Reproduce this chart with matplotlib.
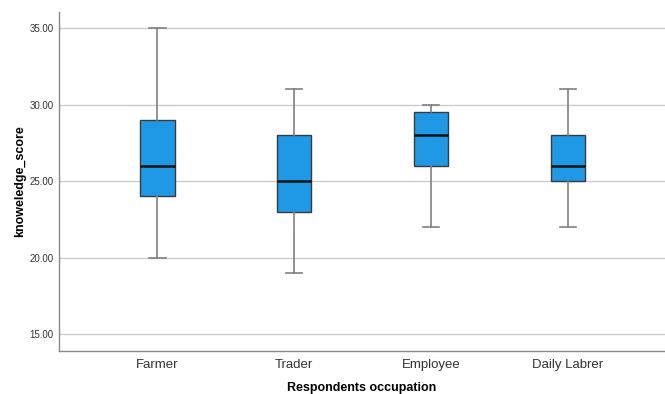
import matplotlib
matplotlib.use("Agg")
import matplotlib.pyplot as plt

plt.rcParams['font.family'] = ['Liberation Sans', 'DejaVu Sans']

# Data
occupations = ['Farmer', 'Trader', 'Employee', 'Daily Labrer']
whisker_low = [20, 19, 22, 22]
q1 = [24, 23, 26, 25]
median = [26, 25, 28, 26]
q3 = [29, 28, 29.5, 28]
whisker_high = [35, 31, 30, 31]
y_ticks = [15, 20, 25, 30, 35]

stats = []
for i, name in enumerate(occupations):
    stats.append(dict(label=name, whislo=whisker_low[i], q1=q1[i], med=median[i],
                      q3=q3[i], whishi=whisker_high[i], fliers=[]))

fig = plt.figure(figsize=(6.65, 3.94), dpi=100)
ax = fig.add_axes([59 / 665, 43 / 394, 606 / 665, 339 / 394])

positions = list(range(len(occupations)))
ax.bxp(stats, positions=positions, widths=0.25, patch_artist=True,
       showfliers=False,
       boxprops=dict(facecolor='#1f99e6', edgecolor='#3a3a3a', linewidth=1.0),
       medianprops=dict(color='#111111', linewidth=1.8),
       whiskerprops=dict(color='#808080', linewidth=1.2),
       capprops=dict(color='#808080', linewidth=1.2),
       capwidths=0.12, zorder=3)

ax.set_xlim(-0.72, 3.71)
ax.set_ylim(13.9, 36.05)
ax.set_yticks(y_ticks)
ax.set_yticklabels([f'{v:.2f}' for v in y_ticks], fontsize=7, color='#333333')
ax.set_xticks(positions)
ax.set_xticklabels(occupations, fontsize=9.5, color='#333333')
ax.tick_params(axis='both', length=0)
ax.tick_params(axis='x', pad=6)
ax.tick_params(axis='y', pad=4)

ax.grid(axis='y', color='#cccccc', linewidth=1.0, zorder=0)
ax.set_axisbelow(True)
for side in ['top', 'right']:
    ax.spines[side].set_visible(False)
for side in ['left', 'bottom']:
    ax.spines[side].set_color('#888888')
    ax.spines[side].set_linewidth(1.0)

ax.set_xlabel('Respondents occupation', fontsize=9, fontweight='bold', labelpad=8)
ax.set_ylabel('knoweledge_score', fontsize=9, fontweight='bold', labelpad=2)

plt.savefig('out.png', dpi=100)
plt.close()
